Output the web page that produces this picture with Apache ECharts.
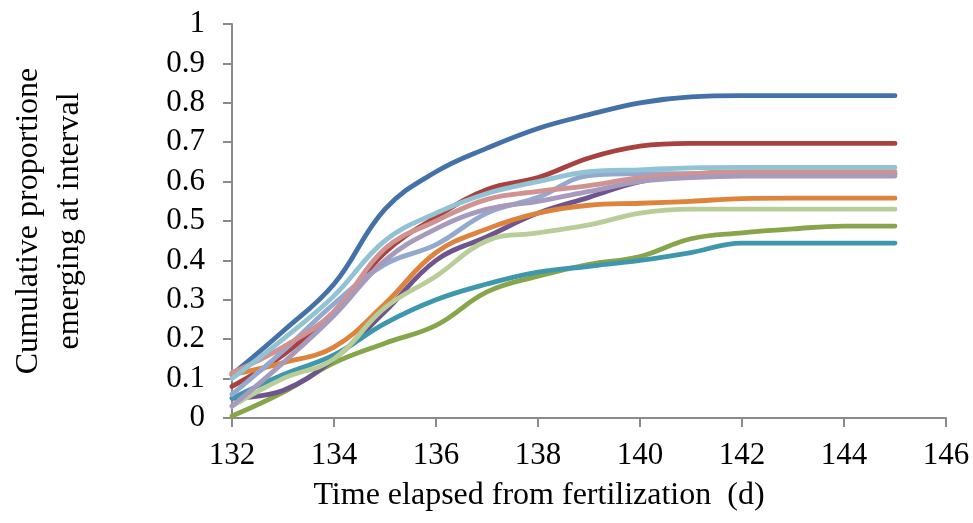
<!DOCTYPE html>
<html>
<head>
<meta charset="utf-8">
<script src="https://cdn.jsdelivr.net/npm/echarts@6/dist/echarts.min.js"></script>
<style>
  html, body { margin: 0; padding: 0; background: #ffffff; }
  #chart { width: 973px; height: 523px; }
</style>
</head>
<body>
<div id="chart"></div>
<script>
// Days after fertilization
var days = [132, 133, 134, 135, 136, 137, 138, 139, 140, 141, 142, 143, 144, 145];

// Cumulative proportion emerged, one array per group
var group1  = [0.110, 0.220, 0.340, 0.530, 0.625, 0.685, 0.735, 0.770, 0.800, 0.815, 0.818, 0.818, 0.818, 0.818];
var group2  = [0.080, 0.160, 0.270, 0.420, 0.510, 0.580, 0.610, 0.660, 0.690, 0.697, 0.697, 0.697, 0.697, 0.697];
var group3  = [0.005, 0.065, 0.140, 0.190, 0.235, 0.320, 0.360, 0.390, 0.410, 0.455, 0.470, 0.480, 0.487, 0.487];
var group4  = [0.050, 0.070, 0.150, 0.270, 0.400, 0.460, 0.520, 0.560, 0.600, 0.615, 0.620, 0.620, 0.620, 0.620];
var group5  = [0.050, 0.110, 0.160, 0.240, 0.300, 0.340, 0.370, 0.385, 0.400, 0.420, 0.444, 0.444, 0.444, 0.444];
var group6  = [0.110, 0.140, 0.180, 0.290, 0.420, 0.480, 0.520, 0.540, 0.545, 0.550, 0.557, 0.558, 0.558, 0.558];
var group7  = [0.060, 0.170, 0.290, 0.390, 0.440, 0.520, 0.560, 0.615, 0.620, 0.620, 0.620, 0.620, 0.620, 0.620];
var group8  = [0.115, 0.180, 0.270, 0.430, 0.500, 0.555, 0.575, 0.590, 0.610, 0.620, 0.625, 0.625, 0.625, 0.625];
var group9  = [0.030, 0.100, 0.150, 0.280, 0.360, 0.450, 0.470, 0.490, 0.520, 0.530, 0.530, 0.530, 0.530, 0.530];
var group10 = [0.030, 0.140, 0.260, 0.400, 0.480, 0.530, 0.550, 0.575, 0.600, 0.610, 0.614, 0.614, 0.614, 0.614];
var group11 = [0.100, 0.200, 0.310, 0.450, 0.520, 0.570, 0.600, 0.625, 0.630, 0.635, 0.636, 0.636, 0.636, 0.636];

// Y axis tick labels
var yTickLabels = ['0', '0.1', '0.2', '0.3', '0.4', '0.5', '0.6', '0.7', '0.8', '0.9', '1'];

var groups = [group1, group2, group3, group4, group5, group6, group7, group8, group9, group10, group11];
var colors = ['#4471a8', '#a8423f', '#87a54b', '#6f558e', '#3f97ae', '#de833b',
              '#93a9d0', '#d09392', '#b8cd97', '#a69abd', '#91c3d4'];

var chart = echarts.init(document.getElementById('chart'), null, { renderer: 'canvas' });

var font = '"Liberation Serif", "Times New Roman", serif';
var axisGray = '#8a8a8a';

var series = groups.map(function (vals, i) {
  return {
    type: 'line',
    data: days.map(function (d, j) { return [d, vals[j]]; }),
    smooth: 0.4,
    showSymbol: false,
    symbol: 'none',
    lineStyle: { width: 4.8, color: colors[i], cap: 'round', join: 'round' },
    itemStyle: { color: colors[i] },
    emphasis: { disabled: true },
    z: 2 + i
  };
});

chart.setOption({
  animation: false,
  backgroundColor: '#ffffff',
  grid: { left: 220, right: 27, top: 24, bottom: 105, containLabel: false },
  xAxis: {
    type: 'value',
    min: 132,
    max: 146,
    interval: 2,
    name: 'Time elapsed from fertilization  (d)',
    nameLocation: 'middle',
    nameGap: 62,
    nameTextStyle: { fontFamily: font, fontSize: 32, color: '#000', padding: [0, 100, 0, 0] },
    axisLine: { show: true, lineStyle: { color: axisGray, width: 2 } },
    axisTick: { show: true, inside: false, length: 9, lineStyle: { color: axisGray, width: 2 } },
    axisLabel: { fontFamily: font, fontSize: 31, color: '#000', margin: 22 },
    splitLine: { show: false }
  },
  yAxis: {
    type: 'value',
    min: 0,
    max: 1,
    interval: 0.1,
    name: 'Cumulative proportione\nemerging at interval',
    nameLocation: 'middle',
    nameGap: 142,
    nameTextStyle: { fontFamily: font, fontSize: 32, color: '#000', lineHeight: 41, align: 'center' },
    axisLine: { show: true, lineStyle: { color: axisGray, width: 2 } },
    axisTick: { show: true, inside: false, length: 9, lineStyle: { color: axisGray, width: 2 } },
    axisLabel: {
      fontFamily: font, fontSize: 31, color: '#000', margin: 27,
      formatter: function (v) { return yTickLabels[Math.round(v * 10)]; }
    },
    splitLine: { show: false }
  },
  series: series
});
</script>
</body>
</html>
